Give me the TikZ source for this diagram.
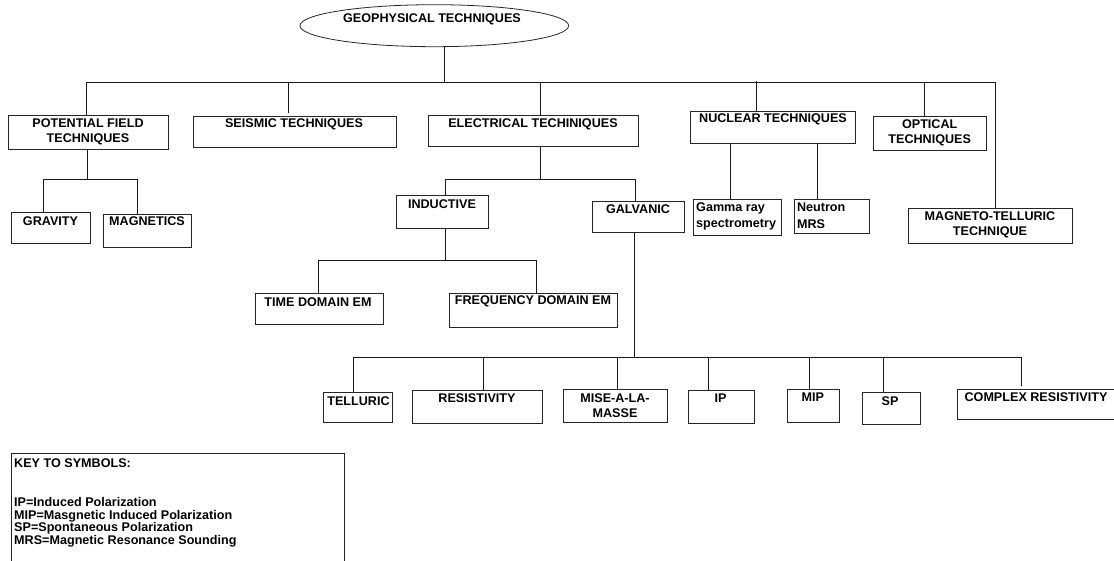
\documentclass[tikz,border=0pt]{standalone}
\usepackage{fontspec}
\setmainfont{Liberation Sans}
\usetikzlibrary{shapes.geometric}
\begin{document}
\begin{tikzpicture}[x=1pt,y=-1pt,
  box/.style={draw=black!85,line width=0.9pt,inner sep=0pt,anchor=north west},
  txt/.style={inner sep=0pt,align=center,font=\bfseries\fontsize{12.6}{15.3}\selectfont},
  ltxt/.style={inner sep=0pt,align=left,anchor=west,font=\bfseries\fontsize{12.6}{16}\selectfont},
  conn/.style={draw=black!90,line width=0.8pt}]
\useasboundingbox (0,0) rectangle (1114,561);
\clip (0,0) rectangle (1114,561);
% root
\node[ellipse,draw=black!85,line width=0.8pt,minimum width=268.7pt,minimum height=42pt,inner sep=0pt] (geo) at (434.3,25.7) {};
\node[txt] (geotext) at (432,19.8) {GEOPHYSICAL TECHNIQUES};
% first level boxes
\node[box,minimum width=160pt,minimum height=33.7pt] (pf) at (8,115) {};
\node[txt] (pft) at (88,131.7) {POTENTIAL FIELD\\TECHNIQUES};
\node[box,minimum width=203pt,minimum height=30.4pt] (seis) at (193,116.3) {};
\node[txt] (seist) at (294,124.3) {SEISMIC TECHNIQUES};
\node[box,minimum width=210.5pt,minimum height=31pt] (elec) at (427.5,115) {};
\node[txt] (elect) at (533,124) {ELECTRICAL TECHINIQUES};
\node[box,minimum width=165.4pt,minimum height=32.3pt] (nuc) at (689.6,111) {};
\node[txt] (nuct) at (773,119.3) {NUCLEAR TECHNIQUES};
\node[box,minimum width=112.2pt,minimum height=34pt] (opt) at (873.4,115.7) {};
\node[txt] (optt) at (929.7,132.7) {OPTICAL\\TECHNIQUES};
\node[box,minimum width=164pt,minimum height=35pt] (mt) at (907.6,208.3) {};
\node[txt] (mtt) at (990,225) {MAGNETO-TELLURIC\\TECHNIQUE};
% potential field children
\node[box,minimum width=78.2pt,minimum height=31pt] (grav) at (11.4,212.3) {};
\node[txt] (gravt) at (50.5,220.7) {GRAVITY};
\node[box,minimum width=87.7pt,minimum height=32.4pt] (mag) at (103,214.3) {};
\node[txt] (magt) at (147,221.3) {MAGNETICS};
% electrical children
\node[box,minimum width=92pt,minimum height=32.7pt] (ind) at (396,195) {};
\node[txt] (indt) at (442,204) {INDUCTIVE};
\node[box,minimum width=92pt,minimum height=31.6pt] (gal) at (592,200.7) {};
\node[txt] (galt) at (638,209.3) {GALVANIC};
% nuclear children
\node[box,minimum width=88pt,minimum height=36.3pt] (gam) at (693,198.7) {};
\node[ltxt] (gamt) at (696,216) {Gamma ray\\spectrometry};
\node[box,minimum width=74.7pt,minimum height=34pt] (neu) at (794,199.3) {};
\node[ltxt,font=\bfseries\fontsize{12.6}{17}\selectfont] (neut) at (796.8,215.8) {Neutron\\MRS};
% inductive children
\node[box,minimum width=127.5pt,minimum height=31.3pt] (tdem) at (255,292.7) {};
\node[txt] (tdemt) at (318,301.7) {TIME DOMAIN EM};
\node[box,minimum width=168pt,minimum height=34.6pt] (fdem) at (449,292.7) {};
\node[txt] (fdemt) at (533,301.7) {FREQUENCY DOMAIN EM};
% galvanic children
\node[box,minimum width=69pt,minimum height=29.7pt] (tel) at (323.3,392.3) {};
\node[txt] (telt) at (358.5,400.7) {TELLURIC};
\node[box,minimum width=130.3pt,minimum height=32.7pt] (res) at (412,390) {};
\node[txt] (rest) at (477,398.3) {RESISTIVITY};
\node[box,minimum width=104.6pt,minimum height=33.3pt] (mise) at (562.7,388.7) {};
\node[txt,font=\bfseries\fontsize{12.6}{15}\selectfont] (miset) at (615,405.5) {MISE-A-LA-\\MASSE};
\node[box,minimum width=65.7pt,minimum height=32.7pt] (ip) at (688.3,390) {};
\node[txt] (ipt) at (720.5,398) {IP};
\node[box,minimum width=52.6pt,minimum height=33.3pt] (mip) at (786.7,389) {};
\node[txt] (mipt) at (812.7,397) {MIP};
\node[box,minimum width=57.4pt,minimum height=32.6pt] (sp) at (862.3,391.7) {};
\node[txt] (spt) at (890,400.7) {SP};
\node[box,minimum width=165pt,minimum height=30.3pt] (cpx) at (956.7,389) {};
\node[txt] (cpxt) at (1036,397.3) {COMPLEX RESISTIVITY};
% key
\node[box,minimum width=333pt,minimum height=130pt] (key) at (10.5,453.3) {};
\node[inner sep=0pt,align=left,anchor=north west,font=\bfseries\fontsize{12.6}{12.8}\selectfont] (keyt) at (14,458.9)
  {KEY TO SYMBOLS:\\[25.6pt]IP=Induced Polarization\\MIP=Masgnetic Induced Polarization\\SP=Spontaneous Polarization\\MRS=Magnetic Resonance Sounding};
% main bus
\coordinate (b0) at (444.5,82.3);
\coordinate (dpf) at (86,82.3);
\coordinate (dseis) at (288,82.3);
\coordinate (delec) at (540,82.3);
\coordinate (dnuc) at (756,81);
\coordinate (dopt) at (924.5,82.3);
\coordinate (dmt) at (995,82.3);
\draw[conn] (b0 |- geo.south) -- (b0);
\draw[conn] (dpf) -- (dmt);
\draw[conn] (dpf) -- (dpf |- pf.north);
\draw[conn,shorten >=3pt] (dseis) -- (dseis |- seis.north);
\draw[conn] (delec) -- (delec |- elec.north);
\draw[conn] (dnuc) -- (dnuc |- nuc.north);
\draw[conn] (dopt) -- (dopt |- opt.north);
\draw[conn] (dmt) -- (dmt |- mt.north);
% potential field sub-tree
\coordinate (pfb) at (87.5,179);
\coordinate (pfl) at (43,179);
\coordinate (pfr) at (137,179);
\draw[conn] (pfb |- pf.south) -- (pfb);
\draw[conn] (pfl) -- (pfr);
\draw[conn] (pfl) -- (pfl |- grav.north);
\draw[conn] (pfr) -- (pfr |- mag.north);
% electrical sub-tree
\coordinate (eb) at (540,179);
\coordinate (el) at (445,179);
\coordinate (er) at (635.6,179);
\draw[conn] (eb |- elec.south) -- (eb);
\draw[conn] (el) -- (er);
\draw[conn] (el) -- (el |- ind.north);
\draw[conn] (er) -- (er |- gal.north);
% inductive sub-tree
\coordinate (ib) at (445,260);
\coordinate (il) at (318.6,260);
\coordinate (ir) at (536.4,260);
\draw[conn] (ib |- ind.south) -- (ib);
\draw[conn] (il) -- (ir);
\draw[conn] (il) -- (il |- tdem.north);
\draw[conn] (ir) -- (ir |- fdem.north);
% nuclear sub-tree
\coordinate (ng) at (730,143.3);
\coordinate (nn) at (817,143.3);
\draw[conn] (ng |- nuc.south) -- (ng |- gam.north);
\draw[conn] (nn |- nuc.south) -- (nn |- neu.north);
% galvanic sub-tree
\coordinate (gb) at (634,357);
\coordinate (g1) at (353.6,357);
\coordinate (g2) at (483,357);
\coordinate (g3) at (617.3,357);
\coordinate (g4) at (708,357);
\coordinate (g5) at (809,357);
\coordinate (g6) at (883.8,357);
\coordinate (g7) at (1021,357);
\draw[conn] (gb |- gal.south) -- (gb);
\draw[conn] (g1) -- (g7);
\draw[conn] (g1) -- (g1 |- tel.north);
\draw[conn] (g2) -- (g2 |- res.north);
\draw[conn] (g3) -- (g3 |- mise.north);
\draw[conn] (g4) -- (g4 |- ip.north);
\draw[conn] (g5) -- (g5 |- mip.north);
\draw[conn] (g6) -- (g6 |- sp.north);
\draw[conn,shorten >=3pt] (g7) -- (g7 |- cpx.north);
\end{tikzpicture}
\end{document}
